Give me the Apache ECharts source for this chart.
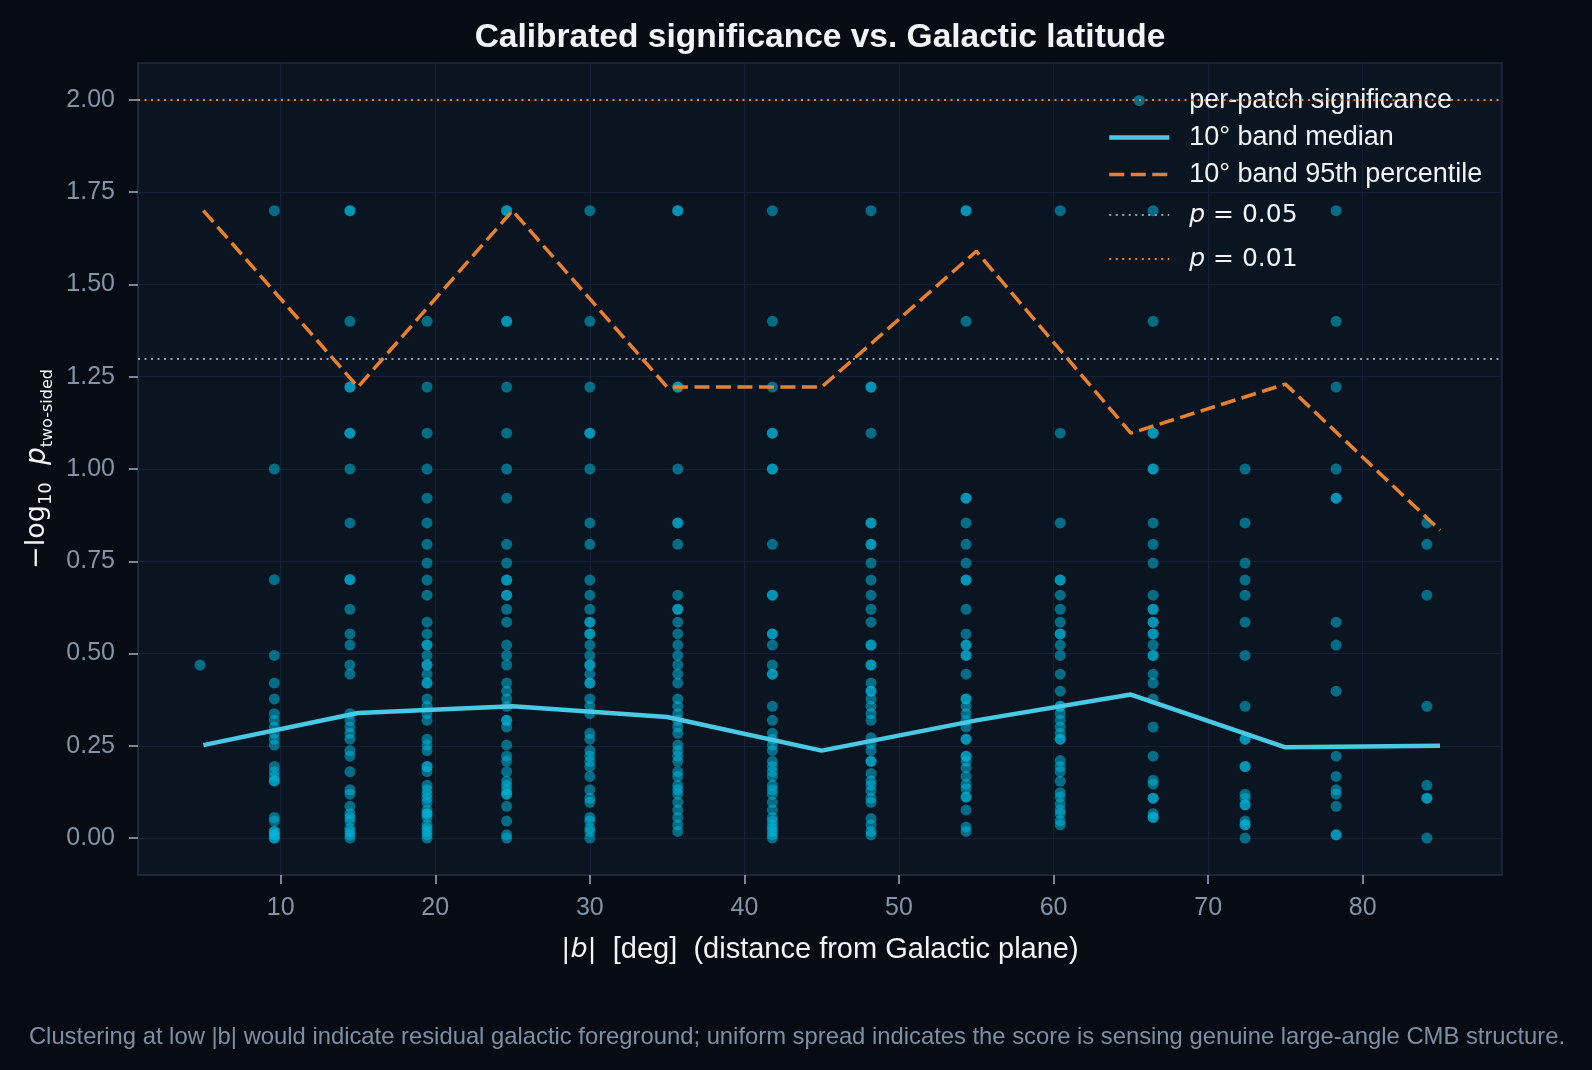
<!DOCTYPE html>
<html>
<head>
<meta charset="utf-8">
<script src="https://cdn.jsdelivr.net/npm/echarts@6/dist/echarts.min.js"></script>
<style>
  html, body { margin: 0; padding: 0; background: #070b13; }
  #mainChart { width: 1592px; height: 1070px; }
</style>
</head>
<body>
<div id="mainChart"></div>
<script>
// latitude of each patch ring (|b|, deg)
const ringLat = [4.78, 9.59, 14.48, 19.47, 24.62, 30.0, 35.69, 41.81, 48.19, 54.34, 60.43, 66.44, 72.39, 78.28, 84.15]

// per-patch -log10 p, one list per ring
const sigRing01 = [0.469]
const sigRing02 = [1.70, 1.00, 0.70, 0.495, 0.42, 0.377, 0.337, 0.319, 0.301, 0.284, 0.268, 0.252, 0.194, 0.180, 0.167, 0.155, 0.155, 0.056, 0.046, 0.018, 0.018, 0.009, 0.009, 0.0, 0.0]
const sigRing03 = [1.70, 1.70, 1.40, 1.222, 1.222, 1.097, 1.097, 1.0, 0.854, 0.70, 0.70, 0.62, 0.553, 0.523, 0.469, 0.444, 0.337, 0.319, 0.301, 0.284, 0.268, 0.237, 0.222, 0.18, 0.131, 0.119, 0.086, 0.066, 0.056, 0.046, 0.027, 0.018, 0.009, 0.0]
const sigRing04 = [1.40, 1.222, 1.097, 1.0, 0.921, 0.854, 0.796, 0.745, 0.699, 0.658, 0.585, 0.553, 0.523, 0.523, 0.495, 0.469, 0.469, 0.444, 0.42, 0.42, 0.377, 0.357, 0.337, 0.319, 0.268, 0.252, 0.237, 0.194, 0.194, 0.18, 0.143, 0.131, 0.119, 0.108, 0.097, 0.076, 0.066, 0.066, 0.056, 0.036, 0.027, 0.018, 0.009, 0.0]
const sigRing05 = [1.70, 1.70, 1.40, 1.40, 1.222, 1.097, 1.0, 0.921, 0.796, 0.745, 0.699, 0.699, 0.658, 0.658, 0.62, 0.585, 0.523, 0.495, 0.469, 0.42, 0.398, 0.377, 0.357, 0.319, 0.319, 0.301, 0.252, 0.222, 0.208, 0.18, 0.155, 0.143, 0.131, 0.119, 0.119, 0.086, 0.046, 0.009, 0.0]
const sigRing06 = [1.70, 1.40, 1.222, 1.097, 1.097, 1.0, 0.854, 0.796, 0.699, 0.658, 0.62, 0.585, 0.585, 0.553, 0.553, 0.523, 0.495, 0.469, 0.469, 0.444, 0.42, 0.42, 0.377, 0.357, 0.337, 0.284, 0.268, 0.237, 0.222, 0.208, 0.194, 0.167, 0.131, 0.108, 0.097, 0.056, 0.046, 0.027, 0.018, 0.0]
const sigRing07 = [1.70, 1.70, 1.222, 1.222, 1.0, 0.854, 0.854, 0.796, 0.658, 0.62, 0.62, 0.585, 0.553, 0.523, 0.495, 0.469, 0.444, 0.42, 0.377, 0.357, 0.337, 0.319, 0.301, 0.284, 0.252, 0.237, 0.222, 0.208, 0.18, 0.167, 0.143, 0.131, 0.119, 0.097, 0.076, 0.056, 0.036, 0.018]
const sigRing08 = [1.70, 1.40, 1.222, 1.097, 1.097, 1.0, 1.0, 0.796, 0.658, 0.658, 0.553, 0.553, 0.523, 0.469, 0.444, 0.444, 0.357, 0.319, 0.284, 0.268, 0.252, 0.237, 0.208, 0.194, 0.18, 0.167, 0.143, 0.131, 0.119, 0.097, 0.076, 0.056, 0.046, 0.036, 0.027, 0.018, 0.009, 0.0]
const sigRing09 = [1.70, 1.222, 1.222, 1.097, 0.854, 0.854, 0.796, 0.796, 0.745, 0.699, 0.658, 0.62, 0.585, 0.523, 0.523, 0.469, 0.469, 0.42, 0.398, 0.398, 0.377, 0.357, 0.337, 0.319, 0.272, 0.255, 0.237, 0.208, 0.208, 0.175, 0.155, 0.143, 0.128, 0.108, 0.097, 0.053, 0.036, 0.018, 0.009]
const sigRing10 = [1.70, 1.70, 1.40, 0.921, 0.921, 0.854, 0.796, 0.745, 0.699, 0.699, 0.62, 0.553, 0.523, 0.523, 0.495, 0.495, 0.444, 0.377, 0.377, 0.357, 0.337, 0.319, 0.301, 0.268, 0.268, 0.222, 0.222, 0.208, 0.190, 0.167, 0.146, 0.134, 0.111, 0.111, 0.076, 0.030, 0.018]
const sigRing11 = [1.70, 1.097, 0.854, 0.699, 0.699, 0.658, 0.62, 0.585, 0.553, 0.553, 0.523, 0.495, 0.444, 0.398, 0.357, 0.357, 0.337, 0.319, 0.301, 0.284, 0.268, 0.268, 0.210, 0.194, 0.18, 0.154, 0.123, 0.111, 0.093, 0.076, 0.066, 0.047, 0.036]
const sigRing12 = [1.70, 1.40, 1.097, 1.097, 1.0, 1.0, 0.854, 0.796, 0.745, 0.658, 0.62, 0.62, 0.585, 0.585, 0.553, 0.553, 0.523, 0.495, 0.495, 0.444, 0.42, 0.377, 0.301, 0.222, 0.157, 0.146, 0.108, 0.108, 0.066, 0.056, 0.056]
const sigRing13 = [1.0, 0.854, 0.745, 0.699, 0.658, 0.585, 0.495, 0.357, 0.268, 0.268, 0.194, 0.194, 0.119, 0.108, 0.090, 0.090, 0.046, 0.036, 0.036, 0.0]
const sigRing14 = [1.70, 1.40, 1.222, 1.0, 0.921, 0.921, 0.585, 0.523, 0.398, 0.222, 0.167, 0.131, 0.119, 0.086, 0.009, 0.009]
const sigRing15 = [0.854, 0.796, 0.658, 0.357, 0.143, 0.108, 0.108, 0.0]

// 10 deg band summaries
const bandCenter = [5, 15, 25, 35, 45, 55, 65, 75, 85]
const bandMedian = [0.252, 0.339, 0.357, 0.328, 0.237, 0.319, 0.389, 0.246, 0.250]
const band95 = [1.70, 1.222, 1.70, 1.222, 1.222, 1.59, 1.097, 1.23, 0.834]

// thresholds (-log10 p)
const sigP05 = 1.301
const sigP01 = 2.0

const xTicks = [10, 20, 30, 40, 50, 60, 70, 80]
const yTicks = [0, 0.25, 0.5, 0.75, 1.0, 1.25, 1.5, 1.75, 2.0]

const sigRings = [sigRing01, sigRing02, sigRing03, sigRing04, sigRing05, sigRing06, sigRing07, sigRing08,
  sigRing09, sigRing10, sigRing11, sigRing12, sigRing13, sigRing14, sigRing15]

const TICK = '#8494a7'
const TXT = '#f2f5f8'
const SPINE = '#1d2b3f'
const GRIDC = '#142033'
const FONT = '"Liberation Sans", Arial, sans-serif'
const NOFILL = { color: 'rgba(0,0,0,0)', borderColor: 'rgba(0,0,0,0)', borderWidth: 0 }

const medianStyle = { color: '#48cae4', width: 4.5 }
const p95Style = { color: '#e8802e', width: 3.5, type: [15, 6.5] }
const p05Style = { color: '#8d9db1', width: 2, type: [2, 4.5] }
const p01Style = { color: '#e8802e', width: 2, type: [2, 4.5] }

let scatterData = []
ringLat.forEach((b, i) => {
  sigRings[i].forEach(v => scatterData.push([b, v]))
})

const chart = echarts.init(document.getElementById('mainChart'))
const option = {
  backgroundColor: '#070b13',
  animation: false,
  textStyle: { fontFamily: FONT },
  grid: {
    left: 138, right: 90, top: 63, bottom: 195,
    show: true,
    backgroundColor: '#0b1521',
    borderColor: SPINE,
    borderWidth: 1.5,
    outerBoundsMode: 'none'
  },
  legend: {
    orient: 'vertical',
    left: 1102,
    top: 82,
    itemWidth: 60,
    itemHeight: 11,
    itemGap: 10,
    selectedMode: false,
    lineStyle: { width: 'inherit' },
    textStyle: {
      color: TXT, fontSize: 27, lineHeight: 27, fontFamily: FONT,
      padding: [0, 0, 0, 15],
      rich: {
        i: { fontFamily: 'DejaVu Sans', fontStyle: 'italic', fontSize: 25, lineHeight: 34, color: TXT },
        m: { fontFamily: 'DejaVu Sans', fontSize: 25, lineHeight: 34, color: TXT }
      }
    },
    formatter: function (name) {
      if (name.indexOf('p = ') === 0) {
        return '{i|p}{m| = ' + name.slice(4) + '}'
      }
      return name
    },
    data: [
      'per-patch significance',
      { name: '10° band median', itemStyle: NOFILL, lineStyle: medianStyle },
      { name: '10° band 95th percentile', itemStyle: NOFILL, lineStyle: p95Style },
      { name: 'p = 0.05', itemStyle: NOFILL, lineStyle: p05Style },
      { name: 'p = 0.01', itemStyle: NOFILL, lineStyle: p01Style }
    ]
  },
  xAxis: {
    type: 'value',
    min: 0.77,
    max: 89.01,
    name: '{m||}{b|b}{m||}  [deg]  (distance from Galactic plane)',
    nameLocation: 'middle',
    nameGap: 60,
    nameTextStyle: {
      color: TXT, fontSize: 29, fontFamily: FONT,
      rich: {
        m: { fontFamily: 'DejaVu Sans', fontSize: 27, color: TXT },
        b: { fontFamily: 'DejaVu Sans', fontStyle: 'italic', fontSize: 27, color: TXT }
      }
    },
    axisLine: { show: true, onZero: false, lineStyle: { color: SPINE, width: 1.5 } },
    axisTick: { show: true, customValues: xTicks, length: 9, lineStyle: { color: TICK, width: 1.8 } },
    axisLabel: { customValues: xTicks, color: TICK, fontSize: 25, margin: 21 },
    splitLine: { show: true, lineStyle: { color: GRIDC, width: 1 } }
  },
  yAxis: {
    type: 'value',
    min: -0.1,
    max: 2.1,
    name: '{n|−log}{s|10}{n|  }{i|p}{t|two-sided}',
    nameLocation: 'middle',
    nameGap: 80,
    nameRotate: 90,
    nameTextStyle: {
      color: TXT,
      rich: {
        n: { fontFamily: 'DejaVu Sans', fontSize: 27, lineHeight: 36, color: TXT },
        i: { fontFamily: 'DejaVu Sans', fontStyle: 'italic', fontSize: 28, lineHeight: 36, color: TXT },
        s: { fontFamily: 'DejaVu Sans', fontSize: 18, lineHeight: 19, verticalAlign: 'bottom', color: TXT },
        t: { fontFamily: 'DejaVu Sans', fontSize: 16, lineHeight: 18, verticalAlign: 'bottom', color: TXT }
      }
    },
    axisLine: { show: true, onZero: false, lineStyle: { color: SPINE, width: 1.5 } },
    axisTick: { show: true, customValues: yTicks, length: 9, lineStyle: { color: TICK, width: 1.8 } },
    axisLabel: {
      customValues: yTicks, color: TICK, fontSize: 25, margin: 23,
      formatter: function (value) { return value.toFixed(2) }
    },
    splitLine: { show: true, lineStyle: { color: GRIDC, width: 1 } }
  },
  series: [
    {
      name: 'per-patch significance',
      type: 'scatter',
      symbolSize: 11,
      itemStyle: { color: '#00b4d8', opacity: 0.55 },
      data: scatterData,
      z: 2
    },
    {
      name: '10° band median',
      type: 'line',
      symbol: 'none',
      lineStyle: medianStyle,
      itemStyle: { color: '#48cae4' },
      data: bandCenter.map((b, i) => [b, bandMedian[i]]),
      z: 4
    },
    {
      name: '10° band 95th percentile',
      type: 'line',
      symbol: 'none',
      lineStyle: p95Style,
      itemStyle: { color: '#e8802e' },
      data: bandCenter.map((b, i) => [b, band95[i]]),
      z: 3
    },
    {
      name: 'p = 0.05',
      type: 'line',
      symbol: 'none',
      lineStyle: p05Style,
      itemStyle: { color: '#8d9db1' },
      data: [],
      markLine: {
        silent: true, symbol: 'none', label: { show: false },
        lineStyle: p05Style,
        data: [{ yAxis: sigP05 }]
      },
      z: 3
    },
    {
      name: 'p = 0.01',
      type: 'line',
      symbol: 'none',
      lineStyle: p01Style,
      itemStyle: { color: '#e8802e' },
      data: [],
      markLine: {
        silent: true, symbol: 'none', label: { show: false },
        lineStyle: p01Style,
        data: [{ yAxis: sigP01 }]
      },
      z: 3
    }
  ],
  graphic: [
    {
      type: 'text', x: 820, y: 38,
      style: {
        text: 'Calibrated significance vs. Galactic latitude',
        fill: TXT, fontSize: 33.5, fontWeight: 'bold', fontFamily: FONT,
        align: 'center', verticalAlign: 'middle'
      }
    },
    {
      type: 'text', x: 797, y: 1037,
      style: {
        text: 'Clustering at low |b| would indicate residual galactic foreground; uniform spread indicates the score is sensing genuine large-angle CMB structure.',
        fill: '#7f8fa3', fontSize: 23.8, fontFamily: FONT,
        align: 'center', verticalAlign: 'middle'
      }
    }
  ]
}
chart.setOption(option)
</script>
</body>
</html>
